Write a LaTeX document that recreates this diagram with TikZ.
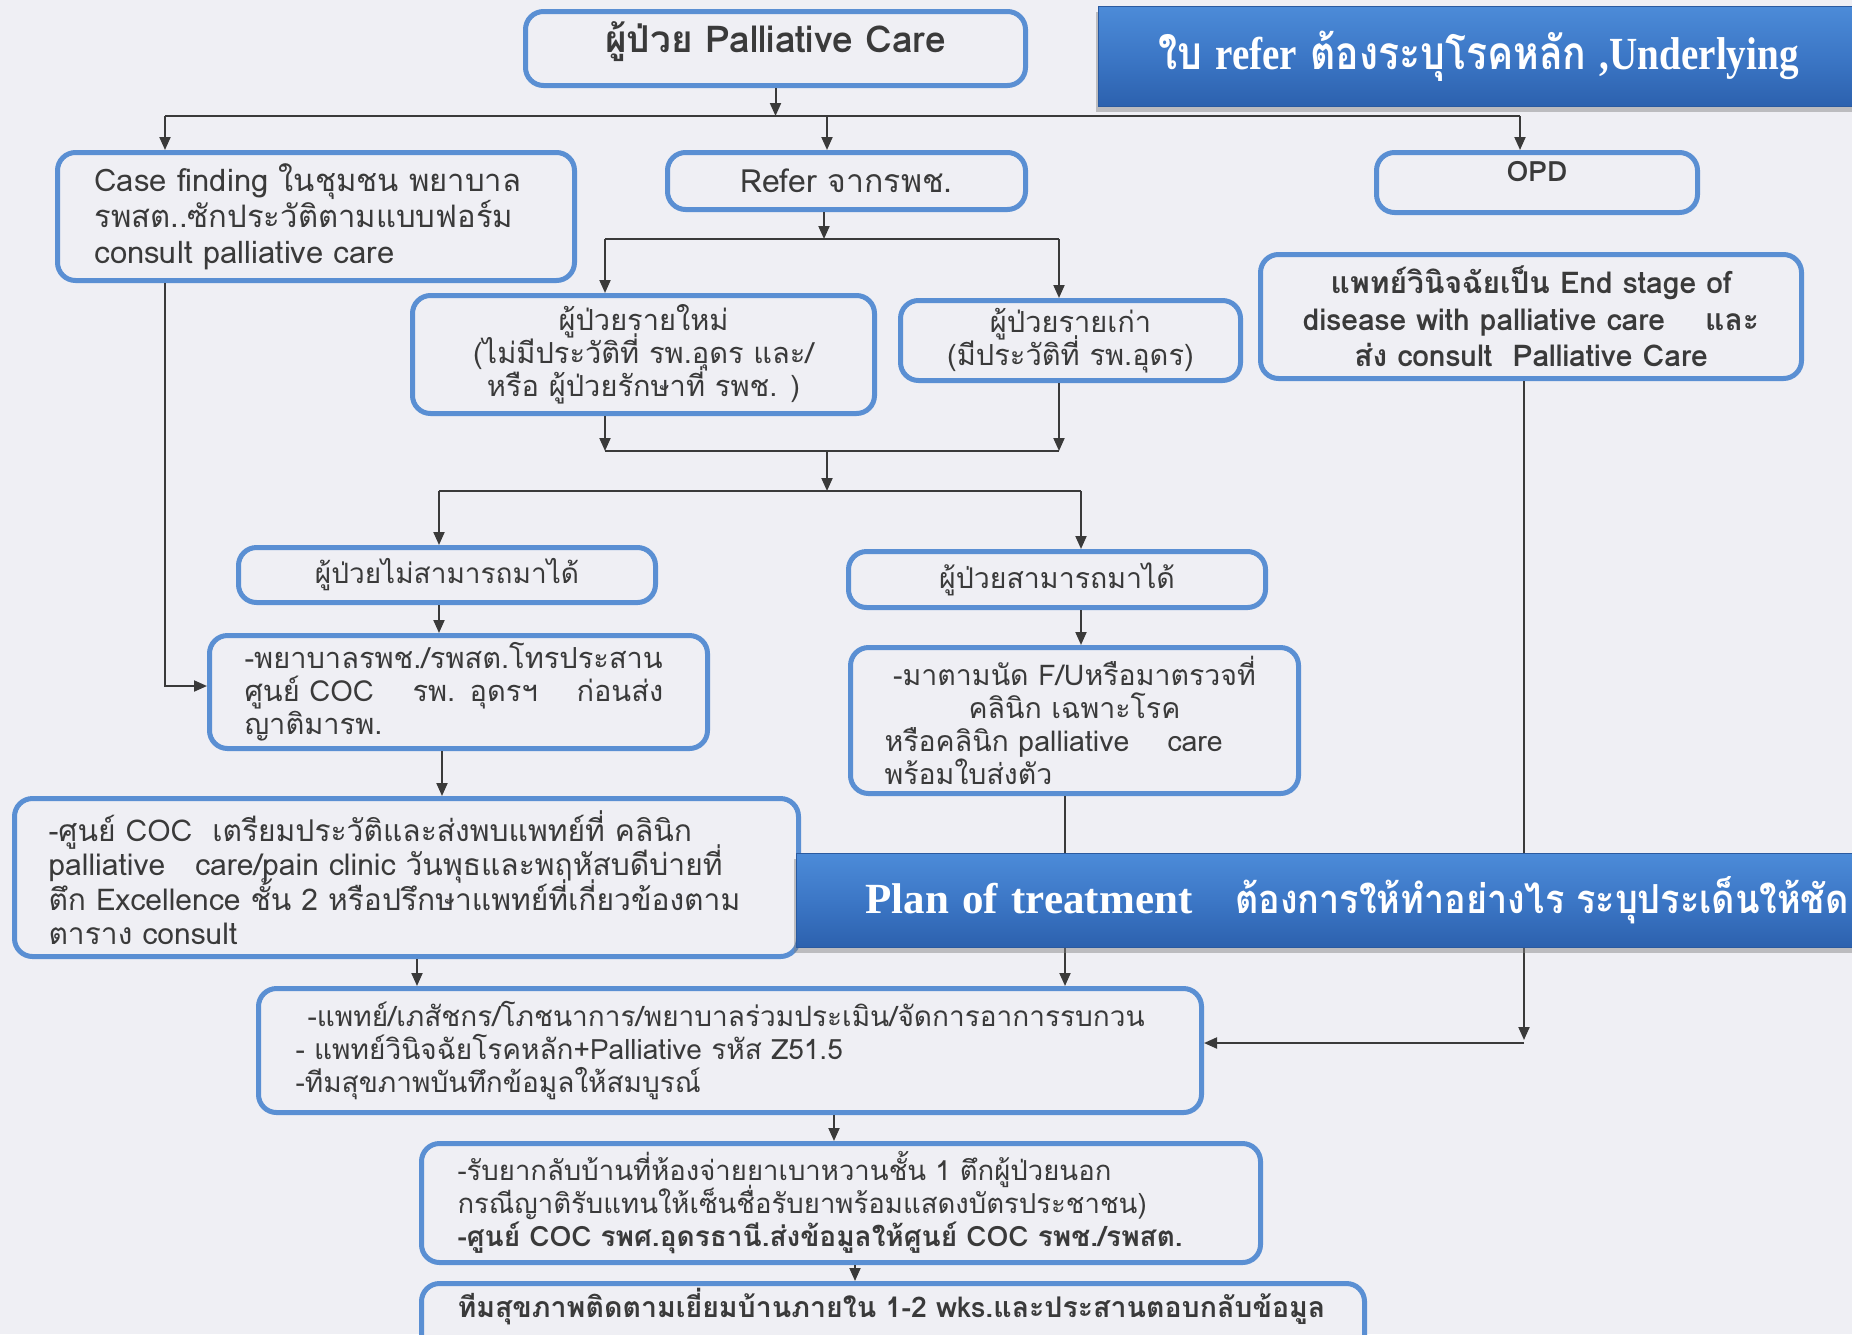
\documentclass[tikz,border=0pt]{standalone}
\usepackage{fontspec}
\usetikzlibrary{arrows.meta,shadows}
\setmainfont[Script=Thai]{Loma}
\newfontfamily\slab{Liberation Serif}
\newcommand\lat[1]{{\slab #1}}
\newcommand\fz[2]{\fontsize{#1pt}{#2pt}\selectfont\lineskiplimit=-60pt\lineskip=0pt}
\definecolor{bg}{HTML}{EFEFF4}
\definecolor{bblue}{HTML}{5A8FD3}
\definecolor{txt}{HTML}{3A3A3A}
\definecolor{lncol}{HTML}{3A3A3A}
\definecolor{banT}{HTML}{4C8BD8}
\definecolor{banM}{HTML}{3C77C6}
\definecolor{banB}{HTML}{2C61AE}
\definecolor{banD}{HTML}{2A5AA0}
\tikzset{
  box/.style={draw=bblue, line width=5pt, rounded corners=18pt, fill=bg, text=txt, inner sep=0pt, anchor=north west},
  banner/.style={draw=banD, line width=1pt, top color=banT, bottom color=banB, middle color=banM, text=white, inner sep=0pt, anchor=north west, drop shadow={shadow xshift=-3pt, shadow yshift=-5pt, opacity=0.45}},
  conn/.style={draw=lncol, line width=2pt},
  arr/.style={draw=lncol, line width=2pt, -{Triangle[length=13pt,width=11pt]}}
}
\begin{document}
\begin{tikzpicture}[x=1pt,y=-1pt]
\fill[bg] (0,0) rectangle (1852,1334);
\useasboundingbox (0,0) rectangle (1852,1334);
\clip (0,0) rectangle (1852,1334);

% boxes
\node[box, minimum width=500pt, minimum height=74pt, text height=24pt, text depth=16pt, font={\fz{37}{40}\bfseries}] (top) at (523,9) {ผู้ป่วย Palliative Care};
\node[box, minimum width=517pt, minimum height=128pt, text width=443pt, align=left, font=\fz{31}{36}] (case) at (55,150) {Case finding ในชุมชน พยาบาล\\รพสต..ซักประวัติตามแบบฟอร์ม\\consult palliative care};
\node[box, minimum width=358pt, minimum height=57pt, font=\fz{32}{36}] (refer) at (665,150) {Refer จากรพช.};
\node[box, minimum width=321pt, minimum height=60pt, text height=22pt, text depth=25pt, font={\fz{28}{32}\bfseries}] (opd) at (1374,150) {OPD};
\node[box, minimum width=462pt, minimum height=118pt, align=center, font=\fz{29}{33}] (new) at (410,293) {ผู้ป่วยรายใหม่\\(ไม่มีประวัติที่ รพ.อุดร และ/\\หรือ ผู้ป่วยรักษาที่ รพช. )};
\node[box, minimum width=340pt, minimum height=80pt, align=center, font=\fz{29}{33}] (old) at (898,298) {ผู้ป่วยรายเก่า\\(มีประวัติที่ รพ.อุดร)};
\node[box, minimum width=541pt, minimum height=124pt, align=center, font={\fz{30}{36.5}\bfseries}] (doc) at (1258,252) {แพทย์วินิจฉัยเป็น End stage of\\disease with palliative care \quad และ\\ส่ง consult \ Palliative Care};
\node[box, minimum width=417pt, minimum height=55pt, font=\fz{28}{32}] (cannot) at (236,545) {ผู้ป่วยไม่สามารถมาได้};
\node[box, minimum width=417pt, minimum height=56pt, font=\fz{28.5}{32}] (can) at (846,549) {ผู้ป่วยสามารถมาได้};
\node[box, minimum width=498pt, minimum height=113pt, text width=428pt, align=left, font=\fz{29}{33}] (nurse) at (207,633) {-พยาบาลรพช./รพสต.โทรประสาน\\ศูนย์ COC \quad รพ. อุดรฯ \quad ก่อนส่ง\\ญาติมารพ.};
\node[box, minimum width=448pt, minimum height=146pt, text width=380pt, align=left, font=\fz{28.5}{33}] (follow) at (848,645) {\makebox[380pt]{-มาตามนัด F/Uหรือมาตรวจที่}\\\makebox[380pt]{คลินิก เฉพาะโรค}\\หรือคลินิก palliative \quad care\\พร้อมใบส่งตัว};
\node[box, minimum width=784pt, minimum height=158pt, text width=716pt, align=left, font=\fz{30}{34.5}] (coc) at (12,796) {-ศูนย์ COC \ เตรียมประวัติและส่งพบแพทย์ที่ คลินิก\\\mbox{palliative \ \ care/pain clinic วันพุธและพฤหัสบดีบ่ายที่}\\ตึก Excellence ชั้น 2 หรือปรึกษาแพทย์ที่เกี่ยวข้องตาม\\ตาราง consult};
\node[box, minimum width=943pt, minimum height=124pt, text width=869pt, align=left, font=\fz{28}{33}] (team) at (256,986) {\hspace*{12pt}-แพทย์/เภสัชกร/โภชนาการ/พยาบาลร่วมประเมิน/จัดการอาการรบกวน\\- แพทย์วินิจฉัยโรคหลัก+Palliative รหัส Z51.5\\-ทีมสุขภาพบันทึกข้อมูลให้สมบูรณ์};
\node[box, minimum width=839pt, minimum height=119pt, text width=767pt, align=left, font=\fz{27.5}{33}] (med) at (419,1141) {-รับยากลับบ้านที่ห้องจ่ายยาเบาหวานชั้น 1 ตึกผู้ป่วยนอก\\กรณีญาติรับแทนให้เซ็นชื่อรับยาพร้อมแสดงบัตรประชาชน)\\{\bfseries\fz{28}{33}-ศูนย์ COC รพศ.อุดรธานี.ส่งข้อมูลให้ศูนย์ COC รพช./รพสต.}};
\node[box, minimum width=943pt, minimum height=80pt, text width=871pt, align=left, text height=20pt, text depth=32pt, font={\fz{28.5}{30}\bfseries}] (final) at (419,1281) {ทีมสุขภาพติดตามเยี่ยมบ้านภายใน 1-2 wks.และประสานตอบกลับข้อมูล};

% connectors
\coordinate (h1L) at (165,116);
\coordinate (h1M) at (827,116);
\coordinate (h1R) at (1520,116);
\draw[arr] (top.south) -- (top.south |- h1L);
\draw[conn] (h1L) -- (h1R);
\draw[arr] (h1L) -- (h1L |- case.north);
\draw[arr] (h1M) -- (h1M |- refer.north);
\draw[arr] (h1R) -- (h1R |- opd.north);

\coordinate (h2L) at (605,239);
\coordinate (h2M) at (824,239);
\coordinate (h2R) at (1059,239);
\draw[arr] (refer.south -| h2M) -- (h2M);
\draw[conn] (h2L) -- (h2R);
\draw[arr] (h2L) -- (h2L |- new.north);
\draw[arr] (h2R) -- (h2R |- old.north);

\coordinate (h3L) at (605,451);
\coordinate (h3M) at (827,451);
\coordinate (h3R) at (1059,451);
\draw[arr] (new.south -| h3L) -- (h3L);
\draw[arr] (old.south -| h3R) -- (h3R);
\draw[conn] (h3L) -- (h3R);

\coordinate (h4L) at (439,491);
\coordinate (h4M) at (827,491);
\coordinate (h4R) at (1081,491);
\draw[arr] (h3M) -- (h4M);
\draw[conn] (h4L) -- (h4R);
\draw[arr] (h4L) -- (h4L |- cannot.north);
\draw[arr] (h4R) -- (h4R |- can.north);

\coordinate (k1) at (439,600);
\draw[arr] (cannot.south -| k1) -- (k1 |- nurse.north);
\coordinate (k2) at (1081,605);
\draw[arr] (can.south -| k2) -- (k2 |- follow.north);

\coordinate (c1) at (165,686);
\draw[arr] (case.south -| c1) -- (c1) -- (c1 -| nurse.west);

\coordinate (k3) at (442,746);
\draw[arr] (nurse.south -| k3) -- (k3 |- coc.north);

\coordinate (f1) at (1065,791);
\draw[arr] (follow.south -| f1) -- (f1 |- team.north);

\coordinate (d1) at (1524,1040);
\coordinate (d2) at (1524,1043);
\draw[arr] (doc.south -| d1) -- (d1);
\draw[arr] (d2) -- (d2 -| team.east);

\coordinate (k4) at (417,954);
\draw[arr] (coc.south -| k4) -- (k4 |- team.north);
\coordinate (k5) at (834,1110);
\draw[arr] (team.south -| k5) -- (k5 |- med.north);
\coordinate (k6) at (855,1260);
\draw[arr] (med.south -| k6) -- (k6 |- final.north);

% banners
\node[banner, minimum width=760pt, minimum height=100pt, font={\fz{46}{50}\bfseries}] (ban1) at (1098,6) {\scalebox{0.85}[1]{ใบ \lat{refer} ต้องระบุโรคหลัก \lat{,Underlying}}};
\node[banner, minimum width=1060pt, minimum height=94pt, text width=1040pt, align=left, font={\fz{40}{46}\bfseries}] (plan) at (796,853) {\hspace*{59pt}\lat{\fz{43}{46}Plan of treatment}\hspace{43pt}\scalebox{0.9}[1]{ต้องการให้ทำอย่างไร ระบุประเด็นให้ชัด}};
\end{tikzpicture}
\end{document}
